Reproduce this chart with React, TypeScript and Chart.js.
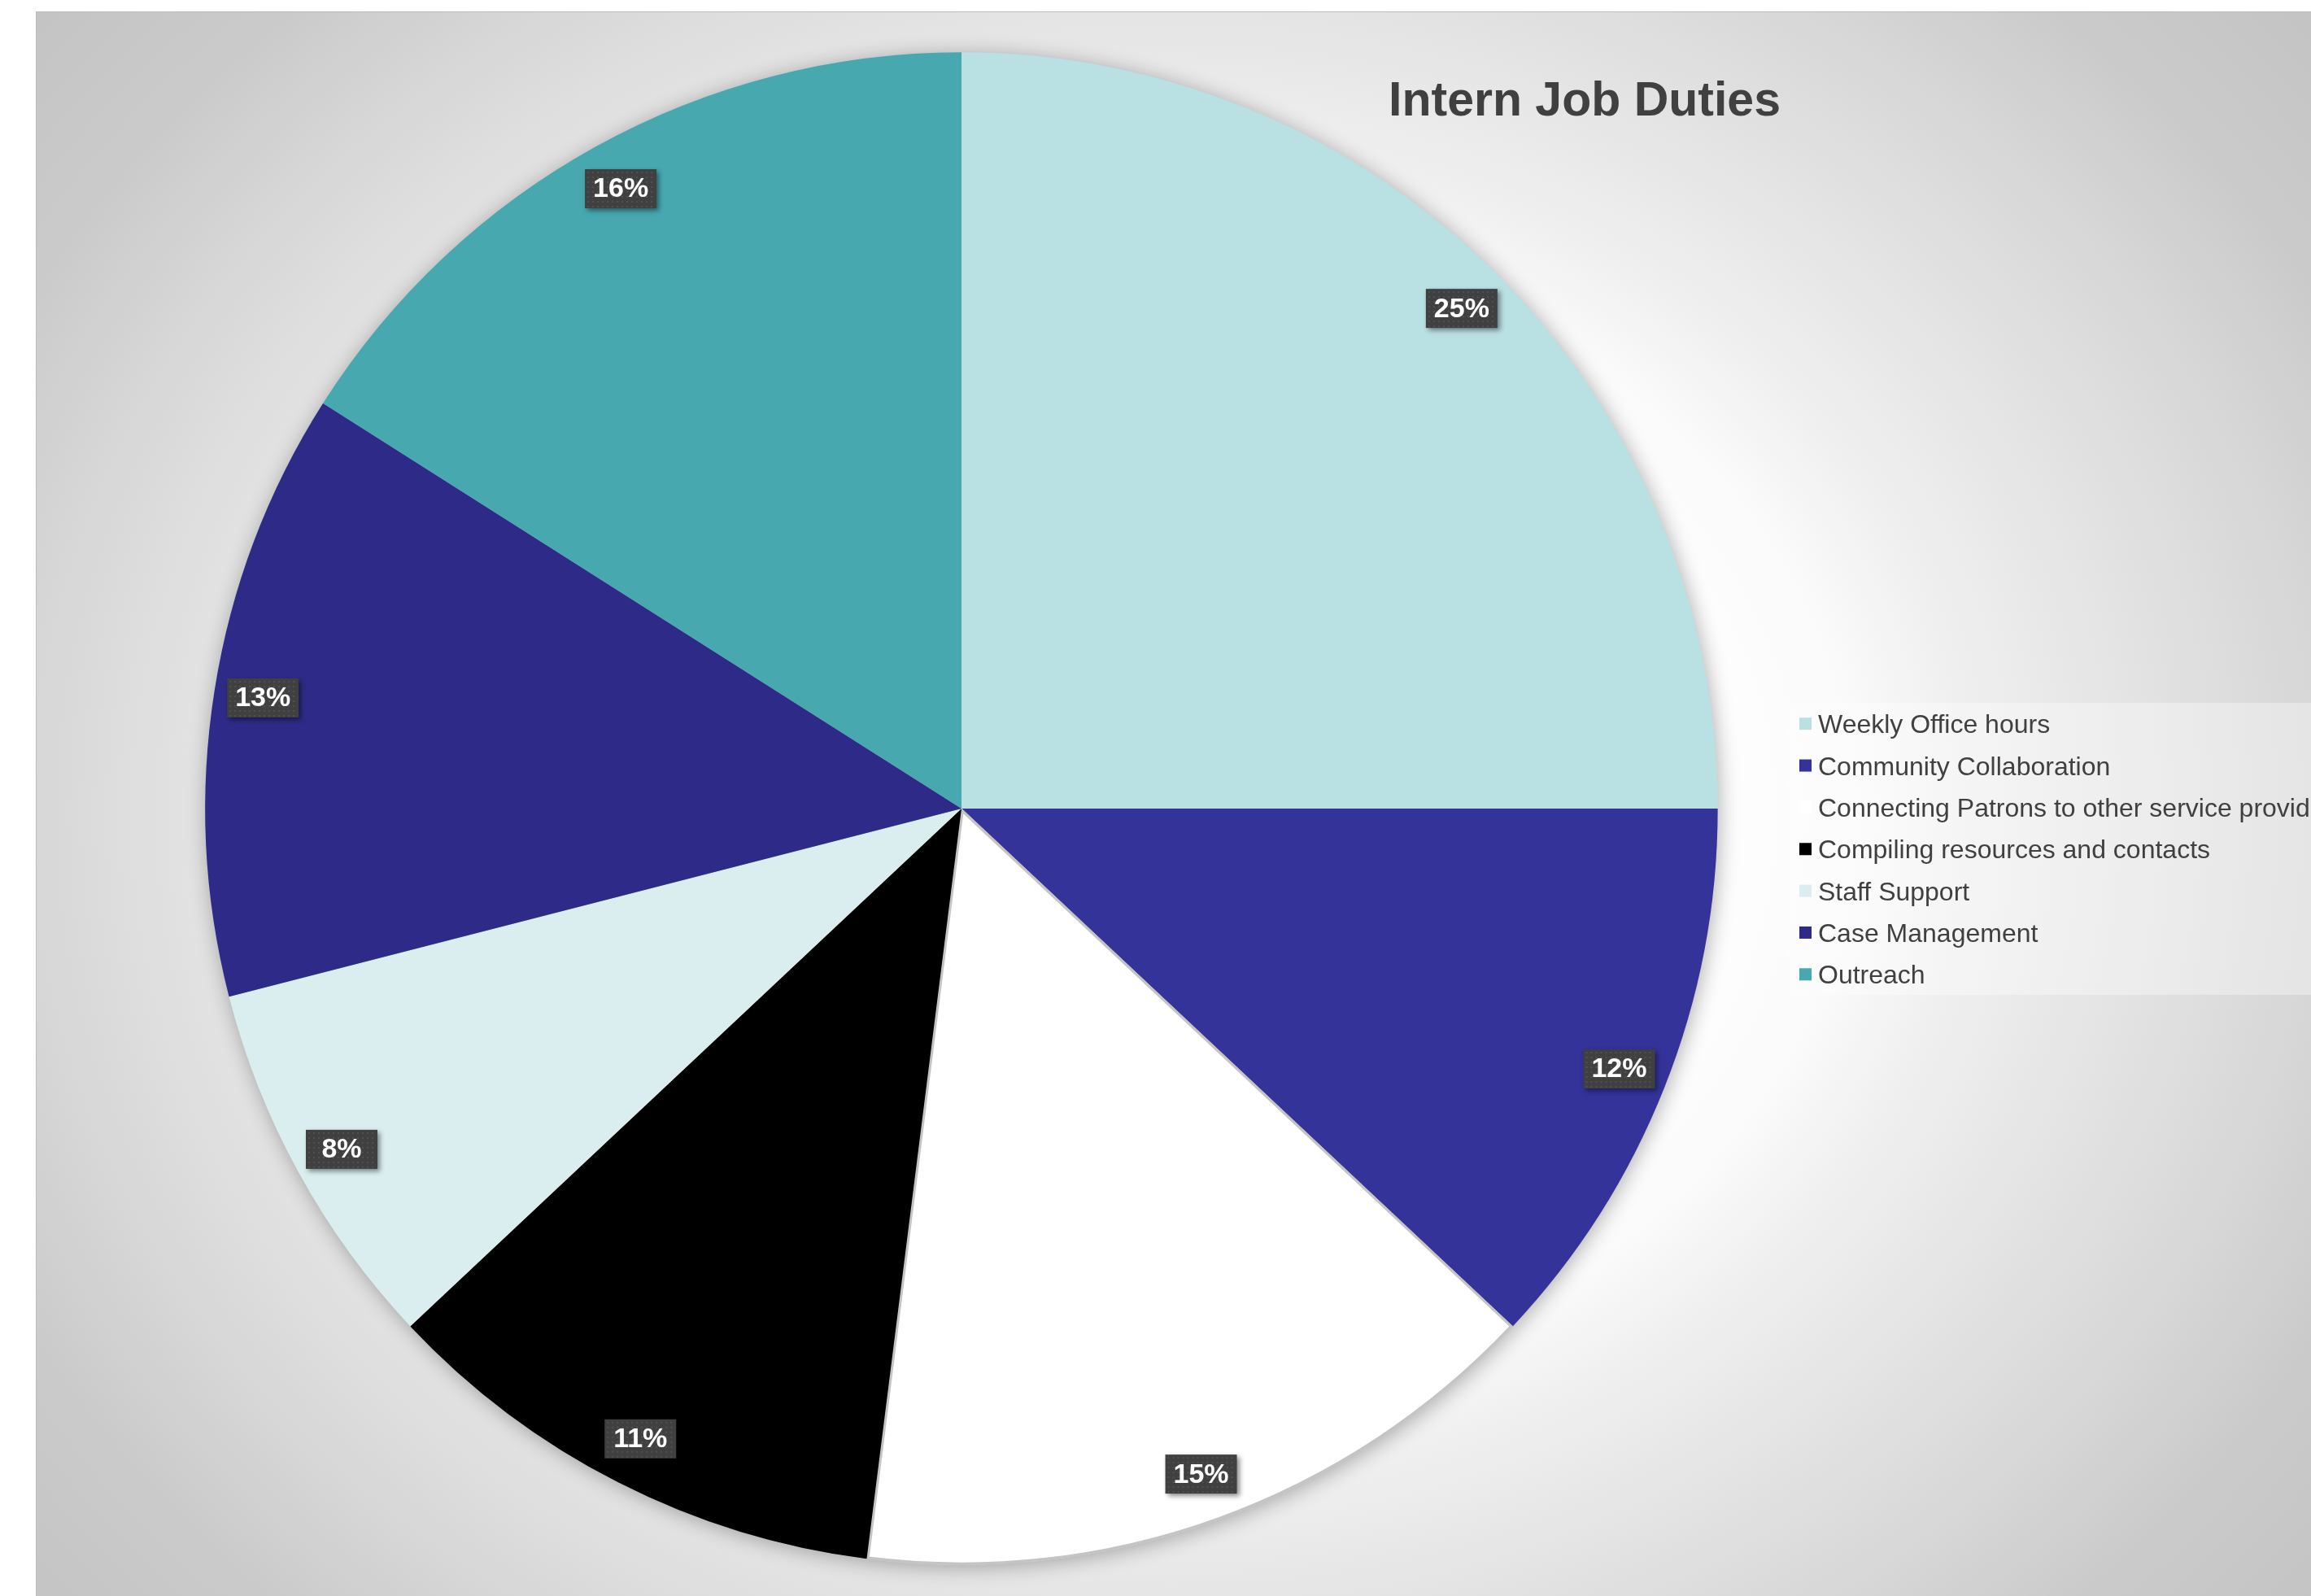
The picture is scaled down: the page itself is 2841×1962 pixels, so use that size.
import React, { useEffect, useRef } from "react";
import { Chart, registerables } from "chart.js";

Chart.register(...registerables);

const chartTitle = "Intern Job Duties";
const categories = [
  "Weekly Office hours",
  "Community Collaboration",
  "Connecting Patrons to other service providers",
  "Compiling resources and contacts",
  "Staff Support",
  "Case Management",
  "Outreach",
];
const values = [25, 12, 15, 11, 8, 13, 16];
const sliceColors = ["#b9e0e3", "#333399", "#ffffff", "#000000", "#daeef0", "#2e2b88", "#48a8b0"];
const sliceBorderWidths = [0, 0, 3, 0, 0, 0, 0];
const sliceBorderColors = ["#b9e0e3", "#333399", "#c4c4c4", "#000000", "#daeef0", "#2e2b88", "#48a8b0"];

const FONT = "'Liberation Sans', Arial, Helvetica, sans-serif";
const W = 2796;
const H = 1947;

const pieShadow = {
  id: "pieShadow",
  beforeDatasetsDraw(chart: any) {
    const meta = chart.getDatasetMeta(0);
    const el = meta.data[0];
    if (!el) return;
    const { x, y, outerRadius } = el.getProps(["x", "y", "outerRadius"], true);
    const ctx = chart.ctx;
    ctx.save();
    ctx.shadowColor = "rgba(0,0,0,0.32)";
    ctx.shadowBlur = 26;
    ctx.shadowOffsetX = 2;
    ctx.shadowOffsetY = 3;
    ctx.beginPath();
    ctx.arc(x, y, outerRadius - 1, 0, Math.PI * 2);
    ctx.fillStyle = "#9a9a9a";
    ctx.fill();
    ctx.restore();
  },
};

const pctLabels = {
  id: "pctLabels",
  afterDatasetsDraw(chart: any) {
    const ctx = chart.ctx;
    const meta = chart.getDatasetMeta(0);
    const data = chart.data.datasets[0].data as number[];
    const total = data.reduce((a, b) => a + b, 0);
    meta.data.forEach((el: any, i: number) => {
      const { x, y, startAngle, endAngle, outerRadius } = el.getProps(
        ["x", "y", "startAngle", "endAngle", "outerRadius"],
        true
      );
      const mid = (startAngle + endAngle) / 2;
      const px = x + Math.cos(mid) * outerRadius * 0.935;
      const py = y + Math.sin(mid) * outerRadius * 0.935;
      const bw = 88;
      const bh = 48;
      const bx = px - bw / 2;
      const by = py - bh / 2;
      ctx.save();
      ctx.shadowColor = "rgba(0,0,0,0.45)";
      ctx.shadowBlur = 6;
      ctx.shadowOffsetX = 3;
      ctx.shadowOffsetY = 3;
      ctx.fillStyle = "#404040";
      ctx.fillRect(bx, by, bw, bh);
      ctx.restore();
      ctx.save();
      ctx.fillStyle = "rgba(255,255,255,0.09)";
      for (let dx = 3; dx < bw - 1; dx += 6) {
        for (let dy = 3; dy < bh - 1; dy += 6) {
          ctx.fillRect(bx + dx, by + dy, 2, 2);
        }
      }
      ctx.fillStyle = "#ffffff";
      ctx.font = `bold 34px ${FONT}`;
      ctx.textAlign = "center";
      ctx.textBaseline = "middle";
      ctx.fillText(Math.round((data[i] / total) * 100) + "%", px, py + 1);
      ctx.restore();
    });
  },
};

const titleAndLegend = {
  id: "titleAndLegend",
  afterDraw(chart: any) {
    const ctx = chart.ctx;
    ctx.save();
    // title
    ctx.fillStyle = "#404040";
    ctx.font = `bold 59px ${FONT}`;
    ctx.textAlign = "center";
    ctx.textBaseline = "alphabetic";
    ctx.fillText(chartTitle, 1903, 127);

    // legend
    const labels = chart.data.labels as string[];
    const colors = chart.data.datasets[0].backgroundColor as string[];
    const boxX = 2153;
    const boxTop = 849;
    const boxBottom = 1208;
    ctx.fillStyle = "rgba(255,255,255,0.35)";
    ctx.fillRect(boxX, boxTop, W - boxX, boxBottom - boxTop);
    const rowH = 51.35;
    const firstY = 874.7;
    ctx.font = `32px ${FONT}`;
    ctx.textAlign = "left";
    ctx.textBaseline = "alphabetic";
    labels.forEach((lab, i) => {
      const cy = firstY + i * rowH;
      ctx.fillStyle = colors[i];
      ctx.fillRect(2167, cy - 7.5, 15, 15);
      ctx.fillStyle = "#404040";
      ctx.fillText(lab, 2190, cy + 11.5);
    });
    ctx.restore();
  },
};

export default function App() {
  const ref = useRef<HTMLCanvasElement>(null);
  useEffect(() => {
    const canvas = ref.current;
    if (!canvas) return;
    const chart = new Chart(canvas, {
      type: "pie",
      data: {
        labels: categories,
        datasets: [
          {
            data: values,
            backgroundColor: sliceColors,
            borderColor: sliceBorderColors,
            borderWidth: sliceBorderWidths,
            borderAlign: "inner",
            hoverOffset: 0,
            hoverBorderWidth: 0,
          } as any,
        ],
      },
      options: {
        responsive: false,
        devicePixelRatio: 1,
        animation: false,
        events: [],
        layout: { padding: { left: 207, top: 49, right: 729, bottom: 38 } },
        plugins: {
          legend: { display: false },
          title: { display: false },
          tooltip: { enabled: false },
        },
      } as any,
      plugins: [pieShadow, pctLabels, titleAndLegend],
    });
    return () => chart.destroy();
  }, []);

  return (
    <div
      style={{
        position: "fixed",
        left: 44,
        top: 14,
        width: W,
        height: H,
        borderTop: "1px solid #bcbcbc",
        borderLeft: "1px solid #bcbcbc",
        overflow: "hidden",
        background:
          "radial-gradient(ellipse 1826px 1532px at 1398px 986px, #ffffff 0%, #fdfdfd 40%, #fafafa 46%, #f0f0f0 53%, #d7d7d7 77%, #cacaca 88%, #c4c4c4 100%)",
      }}
    >
      <canvas ref={ref} width={W} height={H} style={{ display: "block", width: W, height: H }} />
    </div>
  );
}
